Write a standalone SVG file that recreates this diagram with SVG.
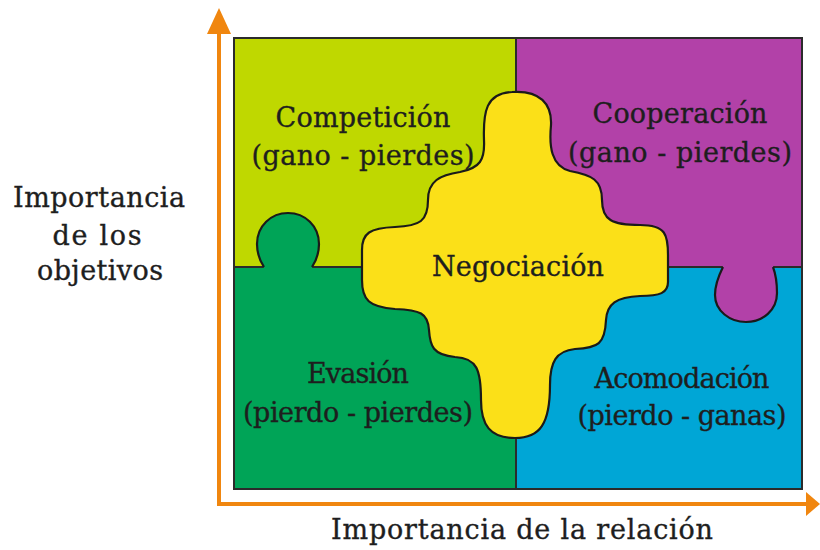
<svg xmlns="http://www.w3.org/2000/svg" width="820" height="550" viewBox="0 0 820 550">
<style>
  .q { stroke: #2b2b2b; stroke-width: 2; }
  .edge { fill: none; stroke: #1a1a1a; stroke-width: 2.2; stroke-linejoin: round; }
  .lbl { font-family: "DejaVu Serif", "Liberation Serif", serif; font-size: 27px; fill: #1e1e1e; stroke: #1e1e1e; stroke-width: 0.35; text-anchor: middle; }
  .axis { fill: none; stroke: #F0860F; stroke-width: 4; }
  .ahead { fill: #F0860F; }
</style>
<rect width="820" height="550" fill="#ffffff"/>

<g id="axes">
  <polyline class="axis" points="219,30 219,504 808,504" stroke-linejoin="miter"/>
  <polygon class="ahead" points="207,34 219,8 231,34"/>
  <polygon class="ahead" points="806,492 820,504 806,516"/>
</g>

<g id="competicion">
  <rect class="q" x="234" y="38" width="282" height="229" fill="#BFD800"/>
</g>
<g id="cooperacion">
  <rect class="q" x="516" y="38" width="286" height="229" fill="#B241A8"/>
</g>
<g id="evasion">
  <rect class="q" x="234" y="267" width="282" height="222" fill="#00A457"/>
  <path d="M 264 268 C 260 261 257 254 257 244 C 257 226 271 213 288 213 C 305 213 319 226 319 244 C 319 254 316 261 312 268 Z" fill="#00A457"/>
  <path class="edge" d="M 264 267 C 260 261 257 254 257 244 C 257 226 271 213 288 213 C 305 213 319 226 319 244 C 319 254 316 261 312 267"/>
</g>
<g id="acomodacion">
  <rect class="q" x="516" y="267" width="286" height="222" fill="#00A6D6"/>
  <path d="M 723 266 C 719 275 715 285 715 295 C 715 311 730 322 746 322 C 763 322 777 310 777 293 C 777 283 776 275 773 266 Z" fill="#B241A8"/>
  <path class="edge" d="M 723 267 C 719 275 715 285 715 295 C 715 311 730 322 746 322 C 763 322 777 310 777 293 C 777 283 776 275 773 267"/>
</g>
<g id="negociacion">
  <path class="edge" style="fill:#FBE018" d="M 512 92 C 540 90 552 104 551 125 C 549 146 551 166 570 171 C 592 175 602 180 602 200 C 602 220 612 225 640 225 C 666 225 668 235 668 255 L 668 282 C 668 293 660 296 640 296 C 616 297 607 304 606 320 C 605 344 598 348 575 349 C 556 351 550 362 550 385 C 550 424 540 438 515 438 C 490 438 481 425 481 400 C 481 370 477 358 455 357 C 433 355 430 346 429 330 C 428 313 420 310 395 309 C 369 307 362 300 362 280 L 362 250 C 362 233 370 228 395 227 C 420 226 428 221 428 200 C 428 181 440 175 460 172 C 480 168 485 160 484 140 C 483 112 486 93 512 92 Z"/>
</g>

<g id="labels">
  <text class="lbl" x="363" y="127" textLength="175">Competición</text>
  <text class="lbl" x="363" y="165" textLength="223">(gano - pierdes)</text>
  <text class="lbl" x="680" y="123" textLength="175">Cooperación</text>
  <text class="lbl" x="680" y="162" textLength="224">(gano - pierdes)</text>
  <text class="lbl" x="518" y="276" textLength="172">Negociación</text>
  <text class="lbl" x="358" y="383" textLength="102">Evasión</text>
  <text class="lbl" x="358" y="422" textLength="230">(pierdo - pierdes)</text>
  <text class="lbl" x="682" y="388" textLength="175">Acomodación</text>
  <text class="lbl" x="682" y="425" textLength="209">(pierdo - ganas)</text>
  <text class="lbl" x="522" y="539" textLength="382">Importancia de la relación</text>
  <text class="lbl" x="99" y="207" textLength="172">Importancia</text>
  <text class="lbl" x="97" y="245" textLength="89">de los</text>
  <text class="lbl" x="100" y="280" textLength="126">objetivos</text>
</g>
</svg>
